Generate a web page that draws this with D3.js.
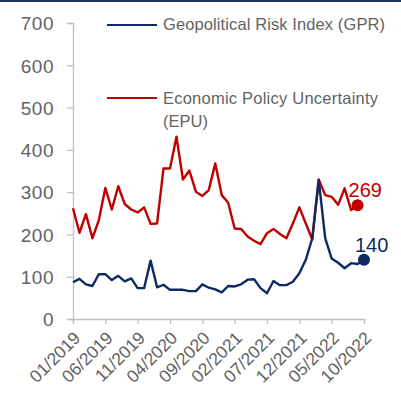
<!DOCTYPE html>
<meta charset="utf-8">
<style>
body { margin: 0; background: #fff; }
svg { display: block; }
.tick-label { font-family: "Liberation Sans", Arial, sans-serif; fill: #636363; }
</style>
<svg width="401" height="409"></svg>
<script src="https://cdn.jsdelivr.net/npm/d3@7"></script>
<script>

// monthly values, 01/2019 .. 10/2022
var months = [];
for (var y = 2019; y <= 2022; y++) {
  for (var m = 1; m <= 12; m++) {
    if (y == 2022 && m > 10) break;
    months.push((m < 10 ? "0" + m : "" + m) + "/" + y);
  }
}

var gpr = [87, 95, 82, 78, 106, 106, 92, 102, 89, 96, 73, 73, 138, 75, 81, 69,
           69, 69, 66, 66, 82, 74, 70, 63, 78, 77, 82, 93, 94, 73, 61, 90,
           80, 80, 88, 108, 140, 191, 329, 191, 143, 133, 120, 132, 130, 140];

var epu = [262, 204, 248, 191, 234, 310, 259, 314, 272, 259, 252, 264, 225, 226, 356, 356,
           431, 330, 351, 301, 291, 305, 368, 293, 275, 214, 213, 195, 185, 177, 203, 213,
           201, 191, 226, 264, 226, 188, 330, 293, 289, 270, 309, 258, 269];

var yTicks = [0, 100, 200, 300, 400, 500, 600, 700];
var xTickLabels = ["01/2019", "06/2019", "11/2019", "04/2020", "09/2020",
                   "02/2021", "07/2021", "12/2021", "05/2022", "10/2022"];

var legendNames = ["Geopolitical Risk Index (GPR)", "Economic Policy Uncertainty", "(EPU)"];

var blue = "#0c2a66", red = "#c00000", axisGrey = "#bfbfbf";

var svg = d3.select("svg");

// top border strip
svg.append("rect").attr("x", 0).attr("y", 0).attr("width", 401).attr("height", 2)
  .attr("fill", "#1f3864");

var x = d3.scaleLinear().domain([0, months.length - 1]).range([73, 364]);
var yScale = d3.scaleLinear().domain([0, 700]).range([319, 23]);

// y axis
var yAxis = svg.append("g")
  .attr("transform", "translate(73,0)")
  .call(d3.axisLeft(yScale).tickValues(yTicks).tickSize(6).tickPadding(13));
yAxis.select(".domain").attr("stroke", axisGrey).attr("stroke-width", 1.3);
yAxis.selectAll(".tick line").attr("stroke", axisGrey).attr("stroke-width", 1.3);
yAxis.selectAll(".tick text")
  .attr("class", "tick-label")
  .style("font-size", "19px")
  .style("letter-spacing", "0.5px")
  .attr("dy", "0.36em");

// x axis
var tickIdx = xTickLabels.map(function(l) { return months.indexOf(l); });
var xAxis = svg.append("g")
  .attr("transform", "translate(0,319)")
  .call(d3.axisBottom(x).tickValues(tickIdx).tickSize(5).tickFormat(function(d) { return months[d]; }));
xAxis.select(".domain").attr("stroke", axisGrey).attr("stroke-width", 1.3);
xAxis.selectAll(".tick line").attr("stroke", axisGrey).attr("stroke-width", 1.3);
xAxis.selectAll(".tick text")
  .attr("class", "tick-label")
  .style("font-size", "17.5px")
  .attr("text-anchor", "end")
  .attr("x", 0).attr("y", 0).attr("dy", 0)
  .attr("transform", "translate(8,20) rotate(-45)");

var line = d3.line()
  .x(function(d, i) { return x(i); })
  .y(function(d) { return yScale(d); });

svg.append("path").datum(epu)
  .attr("fill", "none").attr("stroke", red).attr("stroke-width", 2.4)
  .attr("stroke-linejoin", "round")
  .attr("d", line);

svg.append("path").datum(gpr)
  .attr("fill", "none").attr("stroke", blue).attr("stroke-width", 2.4)
  .attr("stroke-linejoin", "round")
  .attr("d", line);

// end markers + labels
var ends = [
  { data: epu, color: red },
  { data: gpr, color: blue }
];
ends.forEach(function(e) {
  var i = e.data.length - 1, v = e.data[i];
  svg.append("circle").attr("cx", x(i)).attr("cy", yScale(v)).attr("r", 6).attr("fill", e.color);
  svg.append("text")
    .attr("x", x(i) - 9).attr("y", yScale(v) - 8)
    .attr("fill", e.color)
    .style("font-family", "Liberation Sans, Arial, sans-serif")
    .style("font-size", "20px")
    .text(v);
});

// legend
var legend = svg.append("g").style("font-family", "Liberation Sans, Arial, sans-serif")
  .style("font-size", "16.5px").attr("fill", "#636363");

legend.append("line").attr("x1", 107).attr("x2", 157).attr("y1", 25).attr("y2", 25)
  .attr("stroke", blue).attr("stroke-width", 2.2);
legend.append("text").attr("x", 163).attr("y", 30).text(legendNames[0])
  .attr("textLength", 222).attr("lengthAdjust", "spacing");

legend.append("line").attr("x1", 107).attr("x2", 157).attr("y1", 98).attr("y2", 98)
  .attr("stroke", red).attr("stroke-width", 2.2);
legend.append("text").attr("x", 163).attr("y", 104).text(legendNames[1])
  .attr("textLength", 215).attr("lengthAdjust", "spacing");
legend.append("text").attr("x", 163).attr("y", 127).text(legendNames[2]);

</script>
